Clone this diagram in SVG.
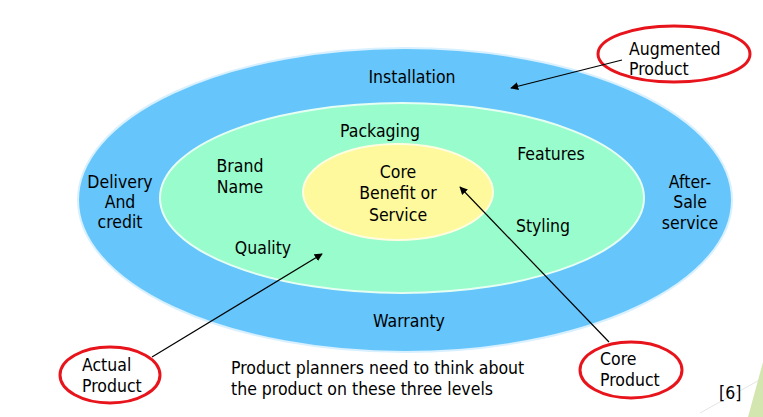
<svg xmlns="http://www.w3.org/2000/svg" width="763" height="417" viewBox="0 0 763 417">
<defs>
<style>
text{font-family:"DejaVu Sans Condensed","DejaVu Sans",sans-serif;font-size:17.5px;fill:#000}
.c{text-anchor:middle}
.red{fill:none;stroke:#e8141c;stroke-width:3}
.conn{stroke:#000;stroke-width:1.2;fill:none;marker-end:url(#ah)}
</style>
<marker id="ah" viewBox="0 0 10 10" refX="9" refY="5" markerWidth="8" markerHeight="8" orient="auto" markerUnits="userSpaceOnUse">
<path d="M0,0 L10,5 L0,10 z" fill="#000"/>
</marker>
</defs>
<rect width="763" height="417" fill="#fff"/>
<g id="corner">
<line x1="700" y1="413" x2="763" y2="378" stroke="#e4e4e4" stroke-width="1"/>
<polygon points="763,362 748,417 763,417" fill="#d3e6b0"/>
</g>
<g id="augmented">
<ellipse cx="405" cy="200" rx="327" ry="152" fill="#66c6fb" stroke="#d8f0ff" stroke-width="2"/>
<text class="c" x="412" y="83">Installation</text>
<text class="c" x="120" y="188">Delivery</text>
<text class="c" x="120" y="208">And</text>
<text class="c" x="120" y="228">credit</text>
<text class="c" x="690" y="188">After-</text>
<text class="c" x="690" y="208">Sale</text>
<text class="c" x="690" y="229">service</text>
<text class="c" x="409" y="327">Warranty</text>
</g>
<g id="actual">
<ellipse cx="402" cy="198" rx="242" ry="95" fill="#99fccc" stroke="#e6fff2" stroke-width="2"/>
<text class="c" x="380" y="137">Packaging</text>
<text class="c" x="240" y="172">Brand</text>
<text class="c" x="240" y="193">Name</text>
<text class="c" x="263" y="254">Quality</text>
<text class="c" x="551" y="160">Features</text>
<text class="c" x="543" y="232">Styling</text>
</g>
<g id="core">
<ellipse cx="398" cy="192" rx="95" ry="48" fill="#fdf99c" stroke="#fffde0" stroke-width="2"/>
<text class="c" x="398" y="178">Core</text>
<text class="c" x="398" y="199">Benefit or</text>
<text class="c" x="398" y="221">Service</text>
</g>
<g id="label-augmented">
<ellipse cx="674" cy="54" rx="76" ry="28" class="red"/>
<text x="629" y="55">Augmented</text>
<text x="629" y="75">Product</text>
</g>
<g id="label-actual">
<ellipse cx="110" cy="375" rx="50" ry="28" class="red"/>
<text x="82" y="371">Actual</text>
<text x="82" y="392">Product</text>
</g>
<g id="label-core">
<ellipse cx="631" cy="370" rx="51" ry="28" class="red"/>
<text x="600" y="365">Core</text>
<text x="600" y="386">Product</text>
</g>
<g id="connectors">
<line class="conn" x1="622" y1="60" x2="511" y2="88"/>
<line class="conn" x1="152" y1="357" x2="322" y2="254"/>
<line class="conn" x1="609" y1="342" x2="460" y2="187"/>
</g>
<g id="caption">
<text x="231" y="374">Product planners need to think about</text>
<text x="231" y="395">the product on these three levels</text>
<text x="719" y="399">[6]</text>
</g>
</svg>
